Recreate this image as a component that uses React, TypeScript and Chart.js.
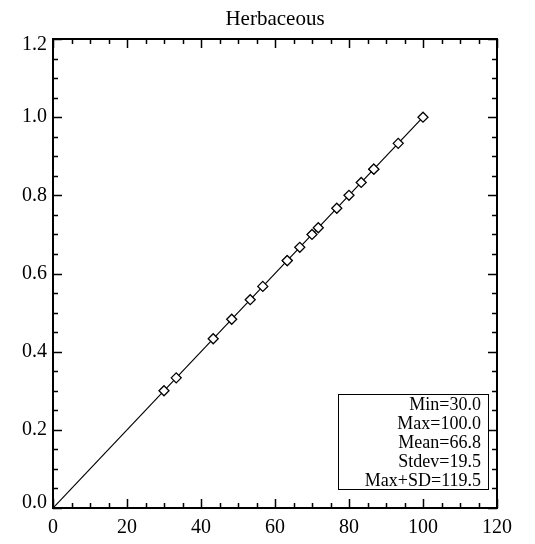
import React, { useEffect, useRef } from "react";
import { Chart, registerables } from "chart.js";

Chart.register(...registerables);

const chartTitle = "Herbaceous";
const xValues = [30, 33.3, 43.3, 48.3, 53.3, 56.7, 63.3, 63.3, 66.7, 70, 71.7, 76.7, 80, 83.3, 86.7, 86.7, 93.3, 100];
const yValues = [0.3, 0.333, 0.433, 0.483, 0.533, 0.567, 0.633, 0.633, 0.667, 0.7, 0.717, 0.767, 0.8, 0.833, 0.867, 0.867, 0.933, 1.0];
const lineX = [0, 100];
const lineY = [0, 1.0];
const statLabels = ["Min=30.0", "Max=100.0", "Mean=66.8", "Stdev=19.5", "Max+SD=119.5"];
const xMin = 0;
const xMax = 120;
const xStep = 20;
const yMin = 0;
const yMax = 1.2;
const yStep = 0.2;

const FONT = '"Liberation Serif", "Times New Roman", serif';

const idlPlugin = {
  id: "idlFrame",
  afterDraw(chart: any) {
    const { ctx, chartArea } = chart;
    const xs = chart.scales.x;
    const ys = chart.scales.y;
    const { left, right, top, bottom } = chartArea;
    ctx.save();
    ctx.strokeStyle = "#000";
    ctx.fillStyle = "#000";
    // frame
    ctx.lineWidth = 2;
    ctx.strokeRect(left, top, right - left, bottom - top);
    // x ticks
    ctx.lineWidth = 1.5;
    for (let i = 0; i <= 24; i++) {
      const v = xMin + (i * (xMax - xMin)) / 24;
      const px = Math.round(xs.getPixelForValue(v)) + 0.5;
      const len = i % 4 === 0 ? 9 : 5;
      ctx.beginPath();
      ctx.moveTo(px, bottom);
      ctx.lineTo(px, bottom - len);
      ctx.moveTo(px, top);
      ctx.lineTo(px, top + len);
      ctx.stroke();
    }
    for (let i = 0; i <= 24; i++) {
      const v = yMin + (i * (yMax - yMin)) / 24;
      const py = Math.round(ys.getPixelForValue(v)) + 0.5;
      const len = i % 4 === 0 ? 9 : 5;
      ctx.beginPath();
      ctx.moveTo(left, py);
      ctx.lineTo(left + len, py);
      ctx.moveTo(right, py);
      ctx.lineTo(right - len, py);
      ctx.stroke();
    }
    // y labels
    ctx.font = `20px ${FONT}`;
    ctx.textAlign = "right";
    ctx.textBaseline = "middle";
    ys.ticks.forEach((t: any) => {
      let py = ys.getPixelForValue(t.value);
      py = Math.min(Math.max(py, top + 6), bottom - 5);
      ctx.fillText(Number(t.value).toFixed(1), left - 6, py);
    });
    // title
    ctx.font = `21px ${FONT}`;
    ctx.textAlign = "center";
    ctx.fillText(chartTitle, (left + right) / 2, 19);
    // stats box
    const boxRight = right - 9;
    const boxBottom = bottom - 19;
    const boxLeft = boxRight - 150;
    const boxTop = boxBottom - 95;
    ctx.lineWidth = 1;
    ctx.strokeRect(Math.round(boxLeft) + 0.5, Math.round(boxTop) + 0.5, 150, 95);
    ctx.font = `18px ${FONT}`;
    ctx.textAlign = "right";
    statLabels.forEach((s, i) => {
      ctx.fillText(s, boxRight - 7, boxTop + 11 + i * 19);
    });
    ctx.restore();
  },
};

export default function App() {
  const ref = useRef<HTMLCanvasElement | null>(null);
  useEffect(() => {
    if (!ref.current) return;
    const pts = xValues.map((x, i) => ({ x, y: yValues[i] }));
    const linePts = lineX.map((x, i) => ({ x, y: lineY[i] }));
    const chart = new Chart(ref.current, {
      type: "scatter",
      data: {
        datasets: [
          {
            data: pts,
            pointStyle: "rectRot",
            pointRadius: 5,
            pointBackgroundColor: "#fff",
            pointBorderColor: "#000",
            pointBorderWidth: 1.3,
            showLine: false,
          },
          {
            type: "line",
            data: linePts,
            borderColor: "#000",
            borderWidth: 1.2,
            pointRadius: 0,
            showLine: true,
            fill: false,
          } as any,
        ],
      },
      options: {
        animation: false,
        responsive: true,
        maintainAspectRatio: false,
        layout: { padding: { top: 39, right: 38, left: 0, bottom: 0 } },
        plugins: { legend: { display: false }, tooltip: { enabled: false }, title: { display: false } },
        scales: {
          x: {
            type: "linear",
            min: xMin,
            max: xMax,
            grid: { display: false, drawTicks: false },
            border: { display: false },
            ticks: {
              stepSize: xStep,
              color: "#000",
              font: { family: FONT, size: 20 },
              padding: 8,
              maxRotation: 0,
            },
            afterFit: (s: any) => {
              s.height = 36;
            },
          },
          y: {
            type: "linear",
            min: yMin,
            max: yMax,
            grid: { display: false, drawTicks: false },
            border: { display: false },
            ticks: {
              stepSize: yStep,
              color: "rgba(0,0,0,0)",
              font: { family: FONT, size: 20 },
            },
            afterFit: (s: any) => {
              s.width = 53;
            },
          },
        },
      },
      plugins: [idlPlugin],
    });
    return () => chart.destroy();
  }, []);
  return (
    <div style={{ position: "absolute", left: 0, top: 0, width: 535, height: 544, background: "#fff" }}>
      <canvas ref={ref} />
    </div>
  );
}
